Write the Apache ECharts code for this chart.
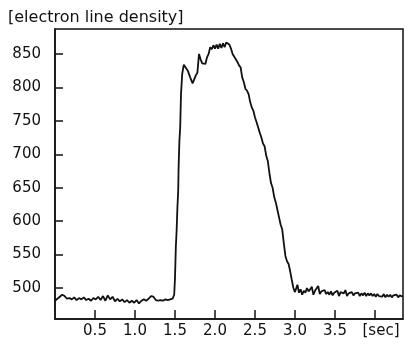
<!DOCTYPE html>
<html>
<head>
<meta charset="utf-8">
<script src="https://cdn.jsdelivr.net/npm/echarts@6/dist/echarts.min.js"></script>
<style>html,body{margin:0;padding:0;background:#fff}#c{width:405px;height:345px}</style>
</head>
<body>
<div id="c"></div>
<script>
var timeSec = [
  0, 0.03, 0.06, 0.09, 0.12, 0.15, 0.18, 0.21, 0.24, 0.27, 0.30, 0.33, 0.36, 0.39, 0.42, 0.45, 0.48, 0.51, 0.54, 0.57,
  0.60, 0.63, 0.66, 0.69, 0.72, 0.75, 0.78, 0.81, 0.84, 0.87, 0.90, 0.93, 0.96, 0.99, 1.02, 1.05, 1.08, 1.11, 1.14, 1.17,
  1.20, 1.23, 1.26, 1.29, 1.32, 1.35, 1.38, 1.41, 1.44, 1.47,
  1.49, 1.50, 1.51, 1.52, 1.53, 1.54, 1.545, 1.555, 1.565, 1.575, 1.59, 1.61, 1.63, 1.66, 1.69, 1.72, 1.74, 1.76, 1.78,
  1.80, 1.82, 1.84, 1.86, 1.88, 1.90, 1.92, 1.94, 1.96, 1.98, 2.00, 2.02, 2.04, 2.06, 2.08, 2.10, 2.12, 2.14, 2.16, 2.18,
  2.20, 2.22, 2.24, 2.26, 2.28, 2.30, 2.32, 2.34, 2.36, 2.38, 2.40, 2.42, 2.44, 2.46, 2.48, 2.50, 2.52, 2.54, 2.56, 2.58,
  2.60, 2.62, 2.64, 2.66, 2.68, 2.70, 2.72, 2.74, 2.76, 2.78, 2.80, 2.82, 2.84, 2.86, 2.88, 2.90, 2.92, 2.94, 2.96, 2.98,
  3.00, 3.01, 3.03, 3.05, 3.07, 3.09, 3.11, 3.13, 3.15, 3.17, 3.19, 3.21, 3.23, 3.25, 3.27, 3.29, 3.31, 3.33, 3.35, 3.37,
  3.39, 3.41, 3.43, 3.45, 3.47, 3.49, 3.51, 3.53, 3.55, 3.57, 3.59, 3.61, 3.63, 3.65, 3.67, 3.69, 3.71, 3.73, 3.75, 3.77,
  3.79, 3.81, 3.83, 3.85, 3.87, 3.89, 3.91, 3.93, 3.95, 3.97, 3.99, 4.01, 4.03, 4.05, 4.07, 4.09, 4.11, 4.13, 4.15, 4.17,
  4.19, 4.21, 4.23, 4.25, 4.27, 4.29, 4.31, 4.35
];
var density = [
  481, 484, 487, 490, 488, 484, 485, 483, 486, 482, 485, 483, 486, 482, 484, 481, 485, 483, 487, 482,
  488, 481, 489, 483, 487, 480, 484, 480, 483, 479, 482, 478, 481, 478, 482, 477, 481, 483, 481, 484,
  488, 487, 482, 481, 482, 481, 483, 482, 483, 484,
  490, 515, 560, 585, 620, 645, 680, 720, 740, 790, 820, 834, 833, 825, 815, 806, 812, 818, 822,
  850, 842, 836, 838, 835, 845, 850, 860, 857, 863, 858, 864, 858, 865, 859, 866, 860, 867, 868, 864,
  858, 850, 848, 842, 838, 833, 830, 815, 808, 798, 795, 790, 778, 770, 765, 755, 748, 740, 732, 725,
  716, 712, 698, 690, 672, 657, 650, 636, 628, 617, 606, 595, 588, 567, 548, 540, 536, 525, 512, 500,
  494, 496, 505, 493, 498, 490, 496, 493, 500, 495, 498, 502, 490, 496, 494, 503, 491, 495, 493, 497,
  491, 494, 490, 495, 489, 493, 491, 496, 488, 494, 496, 492, 497, 488, 492, 491, 494, 489, 492, 490,
  493, 488, 492, 489, 493, 488, 492, 489, 492, 488, 491, 487, 491, 488, 490, 487, 491, 486, 490, 487,
  490, 486, 489, 487, 490, 486, 489, 487
];
var yTicks = [500, 550, 600, 650, 700, 750, 800, 850];
var xTicks = [0.5, 1.0, 1.5, 2.0, 2.5, 3.0, 3.5, 4.0];
var xTickLabels = ['0.5', '1.0', '1.5', '2.0', '2.5', '3.0', '3.5', '[sec]'];
var yTitle = '[electron line density]';

var pts = timeSec.map(function (t, i) { return [t, density[i]]; });
var chart = echarts.init(document.getElementById('c'), null, {renderer: 'canvas'});
var font = 'DejaVu Sans';
chart.setOption({
  animation: false,
  backgroundColor: '#fff',
  title: {
    text: yTitle, left: 3, top: 5,
    textStyle: {fontFamily: font, fontSize: 16, fontWeight: 'normal', color: '#111'}
  },
  grid: {left: 55, right: 2, top: 29, bottom: 26, show: true, borderColor: '#111', borderWidth: 1.5, backgroundColor: 'transparent'},
  xAxis: {
    type: 'value', min: 0, max: 4.35,
    splitLine: {show: false},
    axisLine: {lineStyle: {color: '#111', width: 1.5}},
    axisTick: {inside: true, length: 9, lineStyle: {color: '#111', width: 1.5}, customValues: xTicks},
    axisLabel: {
      customValues: xTicks, margin: 5, color: '#111', fontFamily: font, fontSize: 15,
      formatter: function (v) {
        var i = xTicks.findIndex(function (x) { return Math.abs(x - v) < 1e-6; });
        if (i === xTicks.length - 1) return '{s|' + xTickLabels[i] + '}';
        return i >= 0 ? xTickLabels[i] : '';
      },
      rich: {s: {padding: [0, 0, 0, 12], fontFamily: font, fontSize: 15, color: '#111'}}
    }
  },
  yAxis: {
    type: 'value', min: 453.7, max: 887.3,
    splitLine: {show: false},
    axisLine: {lineStyle: {color: '#111', width: 1.5}},
    axisTick: {inside: true, length: 8, lineStyle: {color: '#111', width: 1.5}, customValues: yTicks},
    axisLabel: {customValues: yTicks, margin: 14, color: '#111', fontFamily: font, fontSize: 15}
  },
  series: [{
    type: 'line', data: pts, symbol: 'none',
    lineStyle: {color: '#111', width: 1.8}
  }]
});
</script>
</body>
</html>
